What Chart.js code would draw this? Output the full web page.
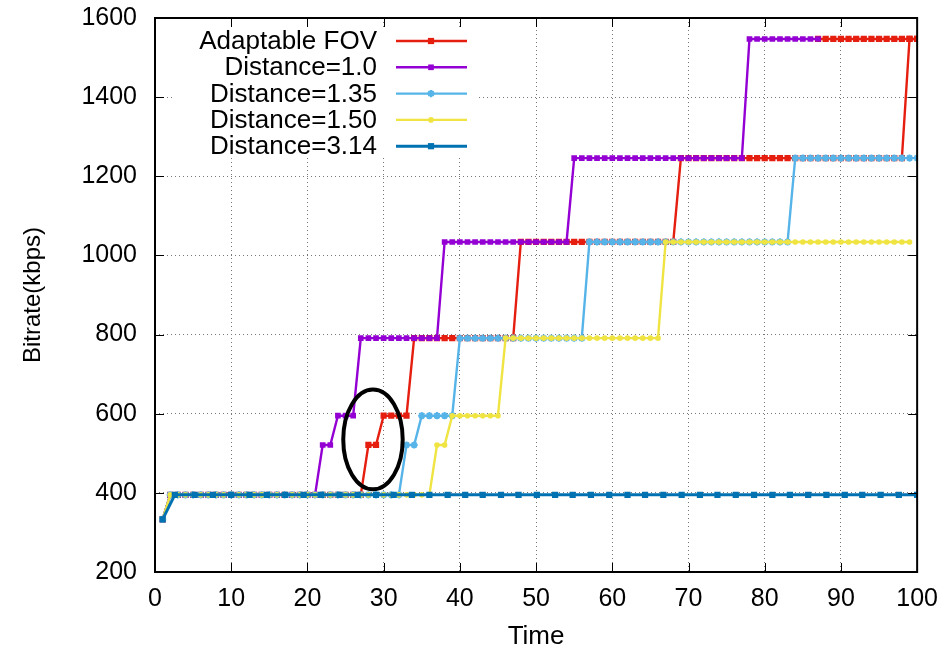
<!DOCTYPE html>
<html>
<head>
<meta charset="utf-8">
<title>Bitrate over time</title>
<script src="https://cdn.jsdelivr.net/npm/chart.js@4.4.0/dist/chart.umd.min.js"></script>
<style>
  html, body { margin: 0; padding: 0; background: #fff; }
</style>
</head>
<body>
<canvas id="bitrateChart" width="950" height="651"></canvas>
<script>
// time axis shared by most series (one sample per second)
const times = [
  1, 2, 3, 4, 5, 6, 7, 8, 9, 10,
  11, 12, 13, 14, 15, 16, 17, 18, 19, 20,
  21, 22, 23, 24, 25, 26, 27, 28, 29, 30,
  31, 32, 33, 34, 35, 36, 37, 38, 39, 40,
  41, 42, 43, 44, 45, 46, 47, 48, 49, 50,
  51, 52, 53, 54, 55, 56, 57, 58, 59, 60,
  61, 62, 63, 64, 65, 66, 67, 68, 69, 70,
  71, 72, 73, 74, 75, 76, 77, 78, 79, 80,
  81, 82, 83, 84, 85, 86, 87, 88, 89, 90,
  91, 92, 93, 94, 95, 96, 97, 98, 99, 100
];

const seriesLabels = ['Adaptable FOV', 'Distance=1.0', 'Distance=1.35', 'Distance=1.50', 'Distance=3.14'];

const adaptableFov = [
  333, 395, 395, 395, 395, 395, 395, 395, 395, 395,
  395, 395, 395, 395, 395, 395, 395, 395, 395, 395,
  395, 395, 395, 395, 395, 395, 395, 521, 521, 595,
  595, 595, 595, 791, 791, 791, 791, 791, 791, 791,
  791, 791, 791, 791, 791, 791, 791, 1034, 1034, 1034,
  1034, 1034, 1034, 1034, 1034, 1034, 1034, 1034, 1034, 1034,
  1034, 1034, 1034, 1034, 1034, 1034, 1034, 1034, 1246, 1246,
  1246, 1246, 1246, 1246, 1246, 1246, 1246, 1246, 1246, 1246,
  1246, 1246, 1246, 1246, 1246, 1246, 1246, 1246, 1246, 1246,
  1246, 1246, 1246, 1246, 1246, 1246, 1246, 1246, 1547, 1547
];

// second red run at the top level
const fovTailTimes = [87, 88, 89, 90, 91, 92, 93, 94, 95, 96, 97, 98, 99, 100];
const fovTail = [1547, 1547, 1547, 1547, 1547, 1547, 1547, 1547, 1547, 1547, 1547, 1547, 1547, 1547];

const dist100 = [
  333, 395, 395, 395, 395, 395, 395, 395, 395, 395,
  395, 395, 395, 395, 395, 395, 395, 395, 395, 395,
  395, 521, 521, 595, 595, 595, 791, 791, 791, 791,
  791, 791, 791, 791, 791, 791, 791, 1034, 1034, 1034,
  1034, 1034, 1034, 1034, 1034, 1034, 1034, 1034, 1034, 1034,
  1034, 1034, 1034, 1034, 1246, 1246, 1246, 1246, 1246, 1246,
  1246, 1246, 1246, 1246, 1246, 1246, 1246, 1246, 1246, 1246,
  1246, 1246, 1246, 1246, 1246, 1246, 1246, 1547, 1547, 1547,
  1547, 1547, 1547, 1547, 1547, 1547, 1547, null, null, null,
  null, null, null, null, null, null, null, null, null, null
];

const dist135 = [
  333, 395, 395, 395, 395, 395, 395, 395, 395, 395,
  395, 395, 395, 395, 395, 395, 395, 395, 395, 395,
  395, 395, 395, 395, 395, 395, 395, 395, 395, 395,
  395, 395, 521, 521, 595, 595, 595, 595, 595, 791,
  791, 791, 791, 791, 791, 791, 791, 791, 791, 791,
  791, 791, 791, 791, 791, 791, 1034, 1034, 1034, 1034,
  1034, 1034, 1034, 1034, 1034, 1034, 1034, 1034, 1034, 1034,
  1034, 1034, 1034, 1034, 1034, 1034, 1034, 1034, 1034, 1034,
  1034, 1034, 1034, 1246, 1246, 1246, 1246, 1246, 1246, 1246,
  1246, 1246, 1246, 1246, 1246, 1246, 1246, 1246, 1246, 1246
];

const dist150 = [
  333, 395, 395, 395, 395, 395, 395, 395, 395, 395,
  395, 395, 395, 395, 395, 395, 395, 395, 395, 395,
  395, 395, 395, 395, 395, 395, 395, 395, 395, 395,
  395, 395, 395, 395, 395, 395, 521, 521, 595, 595,
  595, 595, 595, 595, 595, 791, 791, 791, 791, 791,
  791, 791, 791, 791, 791, 791, 791, 791, 791, 791,
  791, 791, 791, 791, 791, 791, 1034, 1034, 1034, 1034,
  1034, 1034, 1034, 1034, 1034, 1034, 1034, 1034, 1034, 1034,
  1034, 1034, 1034, 1034, 1034, 1034, 1034, 1034, 1034, 1034,
  1034, 1034, 1034, 1034, 1034, 1034, 1034, 1034, 1034, null
];

// Distance=3.14 is sampled more sparsely
const dist314Times = [
  1, 2.6, 5.2, 7.6, 10.0, 12.4, 14.7, 17.1, 19.5, 21.8,
  24.2, 26.6, 29.0, 31.3, 33.7, 36.0, 38.4, 40.7, 43.0, 45.4,
  47.7, 50.1, 52.5, 54.8, 57.2, 59.6, 62.0, 64.3, 66.7, 69.1,
  71.5, 73.8, 76.2, 78.6, 81.0, 83.3, 85.7, 88.1, 90.5, 92.8,
  95.2, 97.6, 100
];
const dist314 = [
  333, 395, 395, 395, 395, 395, 395, 395, 395, 395,
  395, 395, 395, 395, 395, 395, 395, 395, 395, 395,
  395, 395, 395, 395, 395, 395, 395, 395, 395, 395,
  395, 395, 395, 395, 395, 395, 395, 395, 395, 395,
  395, 395, 395
];

const xTicks = [0, 10, 20, 30, 40, 50, 60, 70, 80, 90, 100];
const yTicks = [200, 400, 600, 800, 1000, 1200, 1400, 1600];

// highlighted region (circled in the figure): centre and radii in data units
const highlight = { t: 28.6, v: 535, rt: 3.9, rv: 126 };

const FONT = 'Liberation Sans, Arial, Helvetica, sans-serif';
const colors = ['#e51e10', '#9400d3', '#56b4e9', '#f0e442', '#0072b2'];
const pointStyles = ['rect', 'rect', 'star', 'circle', 'rect'];
const pointRadii = [4.4, 4.0, 3.6, 2.8, 4.4];
const lineWidths = [2.4, 2.4, 2.4, 2.4, 3];

function toPoints(xs, ys) {
    return xs.map((x, i) => ({ x: x, y: ys[i] }));
}

function makeSet(idx, xs, ys, order) {
    return {
        label: seriesLabels[idx],
        data: toPoints(xs, ys),
        borderColor: colors[idx],
        backgroundColor: colors[idx],
        borderWidth: lineWidths[idx],
        pointStyle: pointStyles[idx],
        pointRadius: pointRadii[idx],
        pointBorderWidth: idx === 2 ? 2 : 0,
        pointBorderColor: colors[idx],
        pointBackgroundColor: colors[idx],
        tension: 0,
        spanGaps: false,
        order: order
    };
}

const datasets = [
    makeSet(0, times, adaptableFov, 6),
    Object.assign(makeSet(0, fovTailTimes, fovTail, 6), { label: '_tail' }),
    makeSet(1, times, dist100, 4),
    makeSet(2, times, dist135, 3),
    makeSet(3, times, dist150, 2),
    makeSet(4, dist314Times, dist314, 1)
];

function drawMarker(ctx, style, r, x, y, color) {
    ctx.save();
    ctx.fillStyle = color;
    ctx.strokeStyle = color;
    if (style === 'rect') {
        const s = r * Math.SQRT1_2;
        ctx.fillRect(x - s, y - s, 2 * s, 2 * s);
    } else if (style === 'circle') {
        ctx.beginPath();
        ctx.arc(x, y, r, 0, Math.PI * 2);
        ctx.fill();
    } else {
        ctx.lineWidth = 2;
        ctx.beginPath();
        for (let k = 0; k < 4; k++) {
            const a = k * Math.PI / 4;
            ctx.moveTo(x - r * Math.cos(a), y - r * Math.sin(a));
            ctx.lineTo(x + r * Math.cos(a), y + r * Math.sin(a));
        }
        ctx.stroke();
    }
    ctx.restore();
}

const decorations = {
    id: 'decorations',
    afterLayout(chart) {
        // pin the plot frame where the figure has it
        const a = chart.chartArea;
        a.top = 18;
        a.height = a.bottom - a.top;
        chart.scales.y.top = 18;
        chart.scales.y.height = a.bottom - 18;
        chart.scales.y.configure();
    },
    beforeDatasetsDraw(chart) {
        // white key box hides the grid behind the legend
        const ctx = chart.ctx;
        ctx.save();
        ctx.fillStyle = '#fff';
        ctx.fillRect(172, 27, 304, 131);
        ctx.restore();
    },
    afterDatasetsDraw(chart) {
        const ctx = chart.ctx;
        const xs = chart.scales.x, ys = chart.scales.y;
        const cx = xs.getPixelForValue(highlight.t);
        const cy = ys.getPixelForValue(highlight.v);
        const rx = xs.getPixelForValue(highlight.t + highlight.rt) - cx;
        const ry = cy - ys.getPixelForValue(highlight.v + highlight.rv);
        ctx.save();
        ctx.strokeStyle = '#000';
        ctx.lineWidth = 4;
        ctx.beginPath();
        ctx.ellipse(cx, cy, rx, ry, 0, 0, Math.PI * 2);
        ctx.stroke();
        ctx.restore();
    },
    afterDraw(chart) {
        const ctx = chart.ctx;
        const a = chart.chartArea;
        const xs = chart.scales.x, ys = chart.scales.y;
        ctx.save();

        // inward ticks on all four sides
        ctx.strokeStyle = '#000';
        ctx.lineWidth = 1;
        ctx.beginPath();
        xTicks.forEach(v => {
            const px = Math.round(xs.getPixelForValue(v)) + 0.5;
            ctx.moveTo(px, a.bottom); ctx.lineTo(px, a.bottom - 9);
            ctx.moveTo(px, a.top); ctx.lineTo(px, a.top + 9);
        });
        yTicks.forEach(v => {
            const py = Math.round(ys.getPixelForValue(v)) + 0.5;
            ctx.moveTo(a.left, py); ctx.lineTo(a.left + 9, py);
            ctx.moveTo(a.right, py); ctx.lineTo(a.right - 9, py);
        });
        ctx.stroke();

        // frame
        ctx.lineWidth = 2;
        ctx.strokeRect(a.left, a.top, a.right - a.left, a.bottom - a.top);

        // axis titles
        ctx.fillStyle = '#000';
        ctx.textAlign = 'center';
        ctx.textBaseline = 'middle';
        ctx.font = '26px ' + FONT;
        ctx.fillText('Time', (a.left + a.right) / 2, 637);
        ctx.font = '24px ' + FONT;
        ctx.translate(33, (a.top + a.bottom) / 2);
        ctx.rotate(-Math.PI / 2);
        ctx.fillText('Bitrate(kbps)', 0, 0);
        ctx.setTransform(1, 0, 0, 1, 0, 0);

        // key
        ctx.font = '26px ' + FONT;
        ctx.textAlign = 'right';
        seriesLabels.forEach((label, i) => {
            const y = 41 + i * 26.3;
            ctx.fillStyle = '#000';
            ctx.fillText(label, 377, y + 1);
            ctx.strokeStyle = colors[i];
            ctx.lineWidth = lineWidths[i];
            ctx.beginPath();
            ctx.moveTo(396, y);
            ctx.lineTo(467, y);
            ctx.stroke();
            drawMarker(ctx, pointStyles[i], pointRadii[i], 431, y, colors[i]);
        });
        ctx.restore();
    }
};

new Chart(document.getElementById('bitrateChart').getContext('2d'), {
    type: 'line',
    data: { datasets: datasets },
    options: {
        responsive: false,
        animation: false,
        devicePixelRatio: 1,
        layout: { padding: { left: 0, top: 18, right: 30, bottom: 0 } },
        plugins: {
            legend: { display: false },
            tooltip: { enabled: false }
        },
        scales: {
            x: {
                type: 'linear',
                min: 0,
                max: 100,
                afterFit(scale) { scale.height = 79; },
                afterBuildTicks(scale) { scale.ticks = xTicks.map(v => ({ value: v })); },
                ticks: {
                    padding: 12,
                    color: '#000',
                    maxRotation: 0,
                    autoSkip: false,
                    callback: v => String(v),
                    font: { family: FONT, size: 25 }
                },
                grid: { color: '#777', lineWidth: 1, drawTicks: false },
                border: { display: false, dash: [1, 3] }
            },
            y: {
                min: 200,
                max: 1600,
                afterFit(scale) { scale.width = 155; },
                afterBuildTicks(scale) { scale.ticks = yTicks.map(v => ({ value: v })); },
                ticks: {
                    padding: 18,
                    color: '#000',
                    callback: v => String(v),
                    font: { family: FONT, size: 25 }
                },
                grid: { color: '#777', lineWidth: 1, drawTicks: false },
                border: { display: false, dash: [1, 3] }
            }
        }
    },
    plugins: [decorations]
});
</script>
</body>
</html>
